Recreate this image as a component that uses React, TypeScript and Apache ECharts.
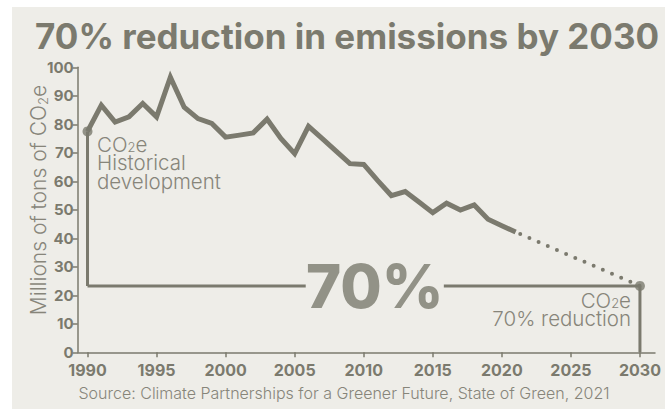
import React, { useEffect, useRef } from "react";
import * as echarts from "echarts";

// ---- data ----
const histYears = [
  1990, 1991, 1992, 1993, 1994, 1995, 1996, 1997, 1998, 1999,
  2000, 2001, 2002, 2003, 2004, 2005, 2006, 2007, 2008, 2009,
  2010, 2011, 2012, 2013, 2014, 2015, 2016, 2017, 2018, 2019,
  2020, 2021,
];
const histValues = [
  77.5, 86.7, 80.8, 82.6, 87.3, 82.6, 96.5, 86.0, 82.0, 80.3,
  75.5, 76.2, 77.0, 81.8, 75.0, 69.7, 79.3, 75.0, 70.6, 66.2,
  65.9, 60.3, 55.0, 56.4, 52.7, 49.0, 52.3, 49.9, 51.7, 46.7,
  44.4, 42.2,
];
const projYears = [2021, 2030];
const projValues = [42.2, 23.3];
const targetValue = 23.3;
const targetLabel = "70%";
const labelYear = 2010.8;
const gapYears = [2005.8, 2015.8];
const xTicks = [1990, 1995, 2000, 2005, 2010, 2015, 2020, 2025, 2030];

const TITLE = "70% reduction in emissions by 2030";
const SOURCE = "Source: Climate Partnerships for a Greener Future, State of Green, 2021";

const INK = "#7b7a6e";
const SOFT = "#87857a";
const BG = "#eeede8";
const FONT = "Inter, 'Noto Sans', sans-serif";

export default function App() {
  const ref = useRef<HTMLDivElement>(null);

  useEffect(() => {
    document.body.style.margin = "0";
    const chart = echarts.init(ref.current!, undefined, { renderer: "svg" });

    const pairs = (xs: number[], ys: number[]) => xs.map((x, i) => [x, ys[i]]);
    const thin = { color: INK, width: 3 };
    const richCO2 = (size: number, lh: number, align?: string) => ({
      a: { fontSize: size, lineHeight: lh, fontWeight: 300, color: SOFT, fill: SOFT, fontFamily: FONT, align },
      s: { fontSize: Math.round(size * 0.62), lineHeight: lh, fontWeight: 300, color: SOFT, fill: SOFT, fontFamily: FONT, verticalAlign: "bottom", align },
    });

    chart.setOption({
      animation: false,
      backgroundColor: "#ffffff",
      title: {
        text: TITLE,
        left: 30,
        top: 13,
        textStyle: { color: INK, fontSize: 35, fontWeight: "bold", fontFamily: FONT },
      },
      grid: { left: 77.7, right: 10, top: 67.3, bottom: 56.7 },
      xAxis: {
        type: "value",
        min: 1989.29,
        max: 2031.09,
        splitLine: { show: false },
        axisLine: { show: true, onZero: false, lineStyle: { color: INK, width: 1.5 } },
        axisTick: { show: true, customValues: xTicks, length: 5, lineStyle: { color: INK, width: 1.5 } },
        axisLabel: {
          customValues: xTicks,
          formatter: (v: number) => String(v),
          color: INK,
          fontSize: 16,
          fontWeight: "bold",
          fontFamily: FONT,
          margin: 10,
        },
      },
      yAxis: {
        type: "value",
        min: 0,
        max: 100,
        interval: 10,
        splitLine: { show: false },
        axisLine: { show: true, onZero: false, lineStyle: { color: INK, width: 1.5 } },
        axisTick: { show: true, length: 5, lineStyle: { color: INK, width: 1.5 } },
        axisLabel: { color: INK, fontSize: 15, fontWeight: "bold", fontFamily: FONT, margin: 4 },
      },
      graphic: [
        {
          type: "rect",
          z: -10,
          silent: true,
          shape: { x: 12, y: 7, width: 653, height: 402 },
          style: { fill: BG },
        },
        {
          type: "text",
          x: 38,
          y: 200,
          rotation: Math.PI / 2,
          z: 10,
          style: {
            text: "{a|Millions of tons of CO}{s|2}{a|e}",
            align: "center",
            verticalAlign: "middle",
            fill: SOFT,
            rich: richCO2(21, 22),
          },
        },
        {
          type: "text",
          x: 97,
          y: 135,
          z: 10,
          style: {
            text: "{a|CO}{s|2}{a|e}\n{a|Historical}\n{a|development}",
            fill: SOFT,
            rich: richCO2(20.5, 18.5),
          },
        },
        {
          type: "text",
          x: 631,
          y: 291,
          z: 10,
          style: {
            text: "{a|CO}{s|2}{a|e}\n{a|70% reduction}",
            align: "right",
            fill: SOFT,
            rich: richCO2(20.5, 18.5, "right"),
          },
        },
        {
          type: "text",
          x: 344,
          y: 385,
          z: 10,
          style: {
            text: SOURCE,
            align: "center",
            fill: SOFT,
            fontSize: 16,
            fontWeight: 300,
            fontFamily: FONT,
          },
        },
      ],
      series: [
        {
          type: "line",
          data: pairs(histYears, histValues),
          symbol: "none",
          lineStyle: { color: INK, width: 5, join: "miter", miterLimit: 10 },
          z: 4,
        },
        {
          type: "line",
          data: pairs(projYears, projValues),
          symbol: "none",
          lineStyle: { color: INK, width: 4, type: [0, 10], cap: "round", dashOffset: -5 },
          z: 4,
        },
        {
          type: "line",
          data: [[histYears[0], targetValue], [gapYears[0], targetValue]],
          symbol: "none",
          lineStyle: thin,
          z: 3,
        },
        {
          type: "line",
          data: [[gapYears[1], targetValue], [projYears[1], targetValue]],
          symbol: "none",
          lineStyle: thin,
          z: 3,
        },
        {
          type: "line",
          data: [[histYears[0], histValues[0]], [histYears[0], targetValue]],
          symbol: "none",
          lineStyle: thin,
          z: 3,
        },
        {
          type: "line",
          data: [[projYears[1], targetValue], [projYears[1], 0]],
          symbol: "none",
          lineStyle: thin,
          z: 3,
        },
        {
          type: "scatter",
          data: [[histYears[0], histValues[0]], [projYears[1], targetValue]],
          symbol: "circle",
          symbolSize: 10,
          itemStyle: { color: INK },
          z: 5,
        },
        {
          type: "scatter",
          data: [[labelYear, targetValue]],
          symbolSize: 1,
          itemStyle: { color: "transparent" },
          z: 6,
          label: {
            show: true,
            position: "inside",
            formatter: targetLabel,
            color: INK,
            fontSize: 60,
            fontWeight: 800,
            fontFamily: FONT,
            textBorderWidth: 0,
          },
        },
      ],
    });

    return () => chart.dispose();
  }, []);

  return <div ref={ref} style={{ width: 665, height: 409 }} />;
}
